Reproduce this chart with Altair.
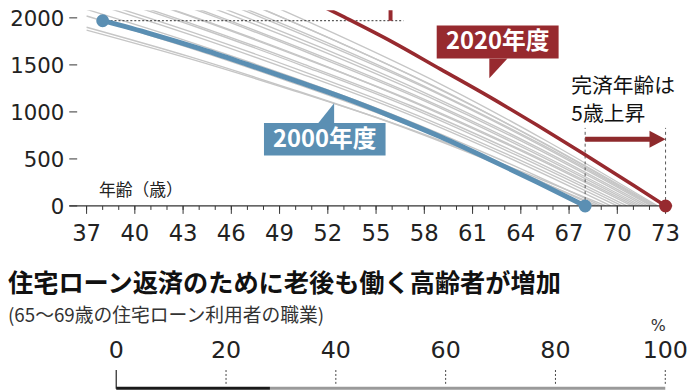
import altair as alt
import pandas as pd

# ---------------- data ----------------
blue_ages = [38, 41, 44, 47, 50, 53, 56, 59, 62, 65, 68]
blue_vals = [1970, 1830, 1675, 1505, 1330, 1150, 950, 735, 500, 255, 0]

red_ages = [41, 44, 47, 50, 53, 56, 59, 62, 65, 68, 71, 73]
red_vals = [2970, 2745, 2510, 2265, 2010, 1745, 1455, 1165, 860, 545, 220, 0]

gray_ages = [
    [37, 43.4, 49.7, 56.1, 62.4, 68.8],
    [37, 43.5, 49.9, 56.4, 62.8, 69.3],
    [37, 43.3, 49.6, 56.0, 62.3, 68.6],
    [37, 43.4, 49.8, 56.2, 62.6, 69.0],
    [37.5, 43.9, 50.3, 56.8, 63.2, 69.6],
    [37, 43.6, 50.2, 56.8, 63.4, 70.0],
    [37.5, 44.1, 50.6, 57.2, 63.7, 70.3],
    [37, 43.7, 50.4, 57.2, 63.9, 70.6],
    [38, 44.6, 51.2, 57.7, 64.3, 70.9],
    [37, 43.8, 50.6, 57.5, 64.3, 71.1],
    [38, 44.7, 51.3, 58.0, 64.6, 71.3],
    [37.5, 44.3, 51.1, 57.9, 64.7, 71.5],
    [38, 44.7, 51.5, 58.2, 65.0, 71.7],
    [38, 44.8, 51.6, 58.3, 65.1, 71.9],
    [38.5, 45.2, 51.9, 58.7, 65.4, 72.1],
    [38, 44.8, 51.7, 58.5, 65.4, 72.2],
    [39, 45.7, 52.3, 59.0, 65.6, 72.3],
    [38, 44.9, 51.8, 58.6, 65.5, 72.4],
    [39, 45.7, 52.4, 59.1, 65.8, 72.5],
]
gray_vals = [
    [1900, 1587, 1245, 874, 456, 0],
    [1870, 1561, 1225, 860, 449, 0],
    [2020, 1687, 1323, 929, 485, 0],
    [2090, 1745, 1369, 961, 502, 0],
    [2150, 1795, 1408, 989, 516, 0],
    [2210, 1845, 1448, 1017, 530, 0],
    [2260, 1887, 1480, 1040, 542, 0],
    [2310, 1929, 1513, 1063, 554, 0],
    [2340, 1954, 1533, 1076, 562, 0],
    [2390, 1996, 1565, 1099, 574, 0],
    [2430, 2029, 1592, 1118, 583, 0],
    [2480, 2071, 1624, 1141, 595, 0],
    [2530, 2113, 1657, 1164, 607, 0],
    [2570, 2146, 1683, 1182, 617, 0],
    [2620, 2188, 1716, 1205, 629, 0],
    [2680, 2238, 1755, 1233, 643, 0],
    [2700, 2255, 1769, 1242, 648, 0],
    [2760, 2305, 1808, 1270, 662, 0],
    [2800, 2338, 1834, 1288, 672, 0],
]

y_ticks = [0, 500, 1000, 1500, 2000]
x_ticks_all = list(range(37, 74))
x_ticks_major = list(range(37, 74, 3))

pct_ticks = [0, 20, 40, 60, 80, 100]
pct_seg_start = [0, 28]
pct_seg_end = [28, 100]
pct_seg_color = ["#1a1a1a", "#9a9a9a"]

BLUE = "#5b8fb3"
RED = "#972a2f"
GRAY = "#c6c6c6"
CJK = "Noto Sans CJK JP"
NUM = "DejaVu Sans"

W, H = 610, 198
xs = alt.Scale(domain=[35.924, 73.412], nice=False, zero=False)
ys = alt.Scale(domain=[0, 2081], nice=False, zero=False)
PCT = "38.843 + datum.p * 0.341389"


def X(field="age"):
    return alt.X(f"{field}:Q", scale=xs, axis=None)


def Y(field="val"):
    return alt.Y(f"{field}:Q", scale=ys, axis=None)


# ---------------- axes drawn through the scales ----------------
x_domain = alt.Chart(pd.DataFrame({"k": [0]})).mark_rule(color="#333", strokeWidth=1.2).encode(
    x=alt.value(0), x2=alt.value(W), y=alt.value(H))
x_minor = alt.Chart(pd.DataFrame({"age": x_ticks_all})).mark_rule(color="#333", strokeWidth=1).encode(
    x=X(), y=alt.value(H), y2=alt.value(H + 4))
x_major = alt.Chart(pd.DataFrame({"age": x_ticks_major})).mark_rule(color="#333", strokeWidth=1).encode(
    x=X(), y=alt.value(H), y2=alt.value(H + 8))
x_labels = alt.Chart(pd.DataFrame({"age": x_ticks_major})).mark_text(
    font=NUM, fontSize=23, color="#222", align="center", baseline="middle"
).encode(x=X(), y=alt.value(H + 28.5), text="age:Q")

y_tickmarks = alt.Chart(pd.DataFrame({"val": y_ticks})).mark_rule(color="#333", strokeWidth=1).encode(
    y=Y(), x=alt.value(0), x2=alt.value(8))
y_labels = alt.Chart(pd.DataFrame({"val": y_ticks})).mark_text(
    font=NUM, fontSize=21.5, color="#222", align="right", baseline="middle", dy=2
).encode(y=Y(), x=alt.value(-5), text="val:Q")

# ---------------- lines ----------------
gray_rows = []
for i, (ag, vl) in enumerate(zip(gray_ages, gray_vals)):
    for a, v in zip(ag, vl):
        gray_rows.append({"line": i, "age": a, "val": v})
gray_df = pd.DataFrame(gray_rows)

gray = alt.Chart(gray_df).mark_line(
    color=GRAY, strokeWidth=1.4, interpolate="monotone", clip=True
).encode(x=X(), y=Y(), detail="line:N")

blue_df = pd.DataFrame({"age": blue_ages, "val": blue_vals})
red_df = pd.DataFrame({"age": red_ages, "val": red_vals})

blue_line = alt.Chart(blue_df).mark_line(
    color=BLUE, strokeWidth=5, interpolate="monotone", clip=True
).encode(x=X(), y=Y())
red_line = alt.Chart(red_df).mark_line(
    color=RED, strokeWidth=3.6, interpolate="monotone", clip=True
).encode(x=X(), y=Y())

# ---------------- annotations ----------------
dotted = alt.Chart(pd.DataFrame({"a1": [38], "a2": [56.7], "val": [1970]})).mark_rule(
    color="#333", strokeWidth=1, strokeDash=[2, 2]
).encode(x=X("a1"), x2="a2:Q", y=Y())

bracket = alt.Chart(pd.DataFrame({"age": [55.9], "v1": [1970], "v2": [2300]})).mark_rule(
    color=RED, strokeWidth=4, clip=True
).encode(x=X(), y=Y("v1"), y2="v2:Q")

dashed = alt.Chart(pd.DataFrame({"age": [68, 73], "v1": [0, 0], "v2": [830, 830]})).mark_rule(
    color="#555", strokeWidth=1, strokeDash=[3, 3]
).encode(x=X(), y=Y("v1"), y2="v2:Q")

shaft = alt.Chart(pd.DataFrame({"a1": [68], "a2": [72.05], "val": [709]})).mark_rule(
    color="#8e2a2c", strokeWidth=5
).encode(x=X("a1"), x2="a2:Q", y=Y())

head = alt.Chart(pd.DataFrame({"age": [72.0, 73.0], "v1": [799, 709], "v2": [620, 709]})).mark_area(
    color="#8e2a2c"
).encode(x=X(), y=Y("v1"), y2="v2:Q")

blue_box = alt.Chart(pd.DataFrame({"a1": [48.03], "a2": [55.59], "v1": [883], "v2": [536]})).mark_rect(
    color=BLUE
).encode(x=X("a1"), x2="a2:Q", y=Y("v1"), y2="v2:Q")
blue_ptr = alt.Chart(pd.DataFrame({"age": [51.41, 52.39], "v1": [883, 1093], "v2": [883, 883]})).mark_area(
    color=BLUE
).encode(x=X(), y=Y("v1"), y2="v2:Q")
red_box = alt.Chart(pd.DataFrame({"a1": [58.77], "a2": [66.35], "v1": [1920], "v2": [1569]})).mark_rect(
    color=RED
).encode(x=X("a1"), x2="a2:Q", y=Y("v1"), y2="v2:Q")
red_ptr = alt.Chart(pd.DataFrame({"age": [62.04, 63.17], "v1": [1359, 1569], "v2": [1569, 1569]})).mark_area(
    color=RED
).encode(x=X(), y=Y("v1"), y2="v2:Q")

box_text = alt.Chart(pd.DataFrame({
    "age": [51.81, 62.57], "val": [704, 1745], "t": ["2000年度", "2020年度"]
})).mark_text(font=CJK, fontSize=24, fontWeight="bold", color="white",
              align="center", baseline="middle").encode(x=X(), y=Y(), text="t:N")

blue_dots = alt.Chart(pd.DataFrame({"age": [38, 68], "val": [1970, 0]})).mark_circle(
    color=BLUE, size=170, opacity=1
).encode(x=X(), y=Y())
red_dot = alt.Chart(pd.DataFrame({"age": [73], "val": [0]})).mark_circle(
    color=RED, size=170, opacity=1
).encode(x=X(), y=Y())

note = alt.Chart(pd.DataFrame({"t": ["完済年齢は", "5歳上昇"], "yy": [78, 106]})).mark_text(
    font=CJK, fontSize=21, color="#111", align="left", baseline="middle"
).encode(x=alt.value(508), y=alt.Y("yy:Q", scale=None), text="t:N")

age_title = alt.Chart(pd.DataFrame({"t": ["年齢（歳）"]})).mark_text(
    font=CJK, fontSize=17, color="#222", align="left", baseline="middle"
).encode(x=alt.value(30), y=alt.value(183), text="t:N")

# ---------------- lower panel (header of the next chart) ----------------
title = alt.Chart(pd.DataFrame({"t": ["住宅ローン返済のために老後も働く高齢者が増加"]})).mark_text(
    font=CJK, fontSize=25.5, fontWeight="bold", color="#111", align="left", baseline="middle"
).encode(x=alt.value(-62), y=alt.value(277.5), text="t:N")
subtitle = alt.Chart(pd.DataFrame({"t": ["(65～69歳の住宅ローン利用者の職業)"]})).mark_text(
    font=CJK, fontSize=19, color="#333", align="left", baseline="middle"
).encode(x=alt.value(-62), y=alt.value(309.5), text="t:N")
pct_sign = alt.Chart(pd.DataFrame({"t": ["%"]})).mark_text(
    font=NUM, fontSize=16, color="#333", align="center", baseline="middle"
).encode(x=alt.value(596), y=alt.value(320), text="t:N")

pct_labels = alt.Chart(pd.DataFrame({"p": pct_ticks})).transform_calculate(
    pa=PCT
).mark_text(
    font=NUM, fontSize=24, color="#222", align="center", baseline="middle"
).encode(x=X("pa"), y=alt.value(345), text="p:Q")
pct_grid = alt.Chart(pd.DataFrame({"p": pct_ticks[1:]})).transform_calculate(
    pa=PCT
).mark_rule(color="#444", strokeWidth=1, strokeDash=[2, 2]).encode(
    x=X("pa"), y=alt.value(364), y2=alt.value(380))
pct_zero = alt.Chart(pd.DataFrame({"p": pct_ticks[:1]})).transform_calculate(
    pa=PCT
).mark_rule(color="#222", strokeWidth=1.2).encode(
    x=X("pa"), y=alt.value(364), y2=alt.value(383))
pct_bar = alt.Chart(pd.DataFrame({"s": pct_seg_start, "e": pct_seg_end, "c": pct_seg_color})).transform_calculate(
    sa="38.843 + datum.s * 0.341389", ea="38.843 + datum.e * 0.341389"
).mark_rect().encode(
    x=X("sa"), x2="ea:Q",
    y=alt.value(381), y2=alt.value(384), color=alt.Color("c:N", scale=None),
)

chart = alt.layer(
    gray, x_domain, x_minor, x_major, x_labels, y_tickmarks, y_labels,
    dotted, dashed, blue_line, red_line, bracket,
    shaft, head, blue_box, blue_ptr, red_box, red_ptr, box_text,
    blue_dots, red_dot, note, age_title,
    title, subtitle, pct_sign, pct_grid, pct_zero, pct_bar, pct_labels,
).properties(
    width=W, height=H, autosize=alt.AutoSizeParams(type="none"),
    padding={"left": 62, "top": 0, "right": 16, "bottom": 190},
).configure_view(stroke=None)

chart.save("out.html", embed_options={"renderer": "svg", "actions": False})
